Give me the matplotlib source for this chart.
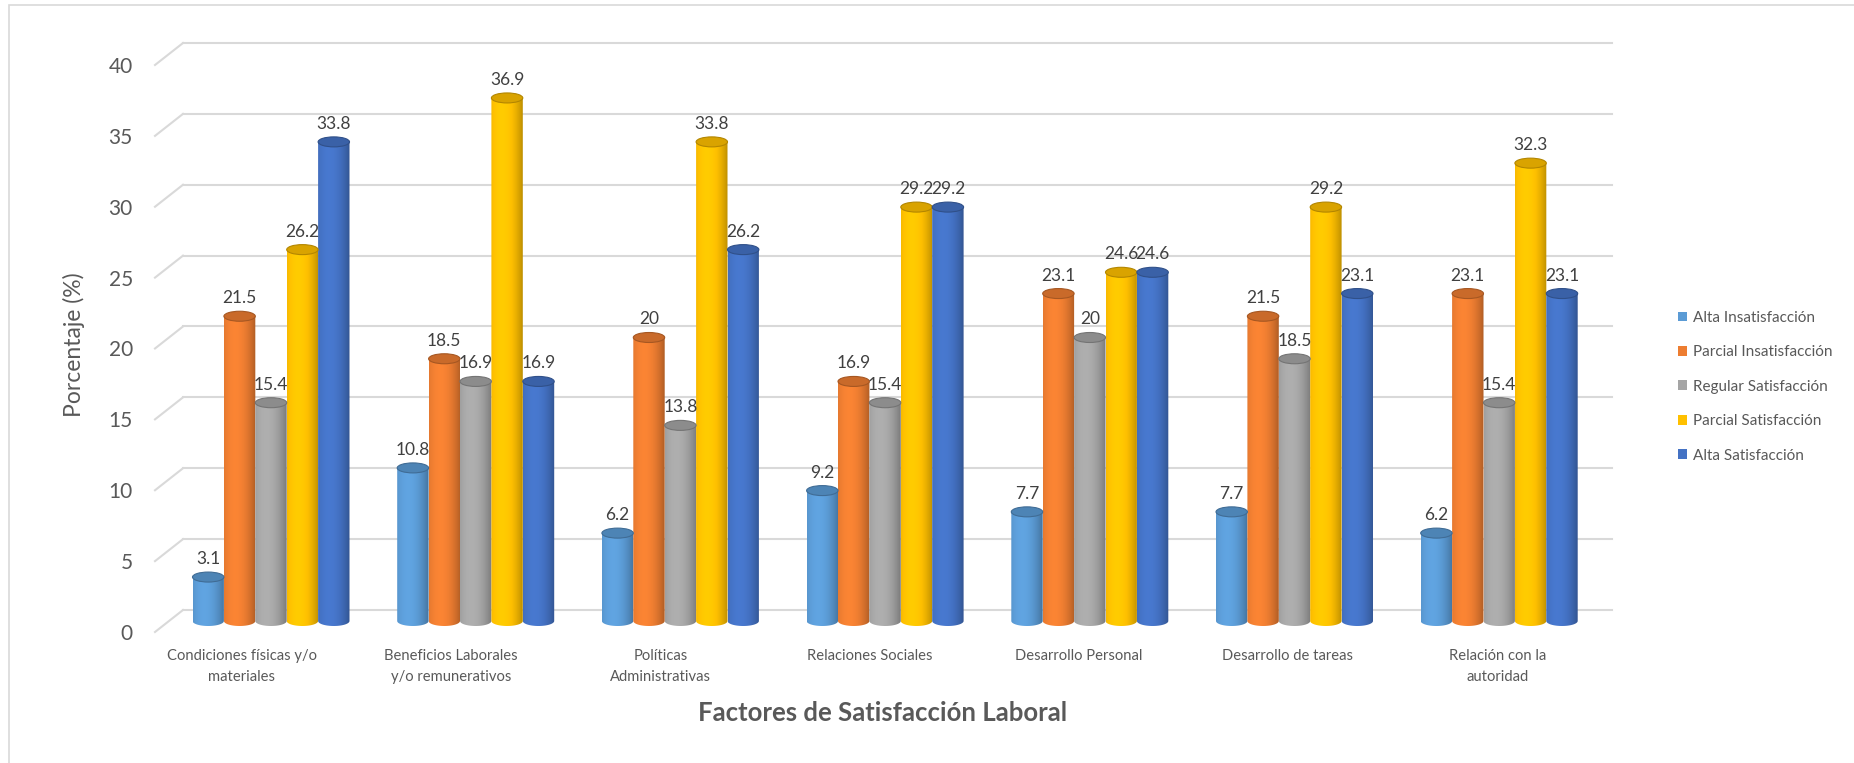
import numpy as np
import matplotlib.pyplot as plt
import matplotlib.colors as mcolors
from matplotlib.patches import Ellipse, PathPatch, Patch, Rectangle
from matplotlib.path import Path

plt.rcParams['font.family'] = ['Lato', 'DejaVu Sans']

categorias = ['Condiciones físicas y/o\nmateriales', 'Beneficios Laborales\ny/o remunerativos',
              'Políticas\nAdministrativas', 'Relaciones Sociales', 'Desarrollo Personal',
              'Desarrollo de tareas', 'Relación con la\nautoridad']
series = ['Alta Insatisfacción', 'Parcial Insatisfacción', 'Regular Satisfacción',
          'Parcial Satisfacción', 'Alta Satisfacción']
alta_insat = [3.1, 10.8, 6.2, 9.2, 7.7, 7.7, 6.2]
parcial_insat = [21.5, 18.5, 20, 16.9, 23.1, 21.5, 23.1]
regular_sat = [15.4, 16.9, 13.8, 15.4, 20, 18.5, 15.4]
parcial_sat = [26.2, 36.9, 33.8, 29.2, 24.6, 29.2, 32.3]
alta_sat = [33.8, 16.9, 26.2, 29.2, 24.6, 23.1, 23.1]
valores = [alta_insat, parcial_insat, regular_sat, parcial_sat, alta_sat]
colores = ['#5B9BD5', '#ED7D31', '#A5A5A5', '#FFC000', '#4472C4']
ticks = [0, 5, 10, 15, 20, 25, 30, 35, 40]

W, H = 1854, 763
fig = plt.figure(figsize=(W / 100, H / 100), dpi=100)

# chart border
fig.patches.append(Rectangle((9 / W, -0.1), 1.2, 1 - 5 / H + 0.1, transform=fig.transFigure,
                             fill=False, edgecolor='#D9D9D9', lw=1.2))

# bar plane: y=0 at 621px, 14.175 px per unit; x: cat 0 at 271px, 204.7 px per cat
ppu = 14.175
ymin, ymax = -0.8, 41.2
top_px = 621 - ymax * ppu
bot_px = 621 - ymin * ppu
ax_l, ax_r = 155, 1612
ax = fig.add_axes([ax_l / W, 1 - bot_px / H, (ax_r - ax_l) / W, (bot_px - top_px) / H])
xlim = ((ax_l - 271) / 204.7, (ax_r - 271) / 204.7)
for s in ax.spines.values():
    s.set_visible(False)

off = 11 / ppu  # perspective offset front/back
xb = (183 - 271) / 204.7
for v in ticks:
    ax.plot([xb, xlim[1]], [v + off, v + off], color='#D9D9D9', lw=1.5, zorder=1, clip_on=False)
    ax.plot([xlim[0], xb], [v - off, v + off], color='#D9D9D9', lw=1.5, zorder=1, clip_on=False)

w = 31.4 / 204.7
eh = 10 / ppu


def cilindro(xc, v, color):
    x0, x1 = xc - w / 2, xc + w / 2
    t = np.linspace(np.pi, 2 * np.pi, 30)
    verts = [(x0, v)] + list(zip(xc + w / 2 * np.cos(t), eh / 2 * np.sin(t))) + [(x1, v), (x0, v)]
    rgb = np.array(mcolors.to_rgb(color))
    tt = np.linspace(0, 1, 64)
    f = 1.06 - 0.75 * (tt - 0.35) ** 2
    img = np.clip(rgb[None, None, :] * f[None, :, None], 0, 1)
    im = ax.imshow(img, extent=(x0, x1, -eh, v), aspect='auto', zorder=2, interpolation='bilinear')
    pp = PathPatch(Path(verts), facecolor='none', edgecolor='none')
    ax.add_patch(pp)
    im.set_clip_path(pp)
    ax.add_patch(Ellipse((xc, v), w, eh, facecolor=rgb * 0.85, edgecolor=rgb * 0.7, lw=0.8, zorder=3))


x = np.arange(len(categorias))
for j, (vals, c) in enumerate(zip(valores, colores)):
    for i, v in enumerate(vals):
        xc = x[i] + (j - 2) * w
        cilindro(xc, v, c)
        ax.annotate(f'{v:g}', (xc, v), xytext=(0, 13), textcoords='offset points',
                    ha='center', va='center', fontsize=12.5, color='#404040', zorder=5)

ax.set_xlim(*xlim)
ax.set_ylim(ymin, ymax)
ax.set_xticks([])
ax.set_yticks([v - off for v in ticks], labels=[str(v) for v in ticks])
ax.tick_params(axis='y', length=0, pad=16, labelsize=15, labelcolor='#595959')
ax.set_ylabel('Porcentaje (%)', fontsize=16.5, color='#595959')
ax.yaxis.set_label_coords((85 - ax_l) / (ax_r - ax_l), (bot_px - 345) / (bot_px - top_px))

# category labels on the front plane
ax2 = ax.twiny()
ax2.set_xlim((ax_l - 242) / 209.2, (ax_r - 242) / 209.2)
ax2.set_xticks(x, labels=categorias)
ax2.xaxis.set_ticks_position('bottom')
ax2.xaxis.set_label_position('bottom')
ax2.tick_params(axis='x', length=0, pad=12, labelsize=10.6, labelcolor='#595959')
for lab in ax2.get_xticklabels():
    lab.set_linespacing(1.65)
for s in ax2.spines.values():
    s.set_visible(False)

fig.text(883 / W, 1 - 713 / H, 'Factores de Satisfacción Laboral', ha='center', va='center',
         fontsize=18.5, fontweight='bold', color='#595959')

handles = [Patch(facecolor=c) for c in colores]
fig.legend(handles, series, loc='upper left', bbox_to_anchor=(1664 / W, 1 - 297 / H), frameon=False,
           fontsize=11, labelspacing=1.34, handlelength=0.6, handleheight=0.6, handletextpad=0.4,
           labelcolor='#595959')

fig.savefig('out.png', dpi=100)
